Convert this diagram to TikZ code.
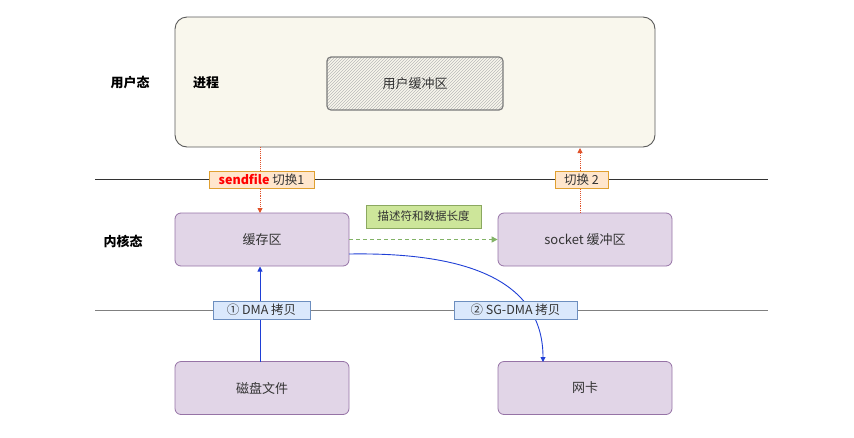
\documentclass[tikz,border=0pt]{standalone}
\usepackage{fontspec}
\setmainfont{Noto Sans CJK SC}
\usetikzlibrary{patterns,arrows.meta}
\definecolor{procfill}{HTML}{F9F7ED}
\definecolor{procdraw}{HTML}{5A5A5A}
\definecolor{purfill}{HTML}{E1D5E7}
\definecolor{purdraw}{HTML}{9673A6}
\definecolor{orfill}{HTML}{FFE6CC}
\definecolor{ordraw}{HTML}{E0A030}
\definecolor{blfill}{HTML}{DAE8FC}
\definecolor{bldraw}{HTML}{6C8EBF}
\definecolor{grfill}{HTML}{CDE69A}
\definecolor{grdraw}{HTML}{8BA860}
\definecolor{redarr}{HTML}{E0522A}
\definecolor{grarr}{HTML}{82B366}
\definecolor{bluearr}{HTML}{1F3FD6}
\definecolor{txt}{HTML}{333333}
\tikzset{
  purbox/.style={draw=purdraw, fill=purfill, rounded corners=6pt, line width=0.8pt, minimum width=174pt, minimum height=53pt, text=txt, font=\fontsize{13}{15}\selectfont},
  orlab/.style={draw=ordraw, fill=orfill, line width=0.8pt, inner sep=1pt, minimum height=17pt, text=txt, font=\fontsize{12.5}{14}\selectfont},
  bllab/.style={draw=bldraw, fill=blfill, line width=0.8pt, inner sep=1pt, minimum height=18pt, text=txt, font=\fontsize{12.5}{14}\selectfont},
  sidelab/.style={text=black, font=\fontsize{13}{15}\selectfont\bfseries},
  redflow/.style={redarr, densely dotted, line width=0.9pt, -{Triangle[length=5pt,width=5pt]}},
  blueflow/.style={bluearr, line width=0.9pt, -{Triangle[length=5pt,width=5pt]}},
}
\begin{document}
\begin{tikzpicture}[x=1pt,y=-1pt]
\useasboundingbox (0,0) rectangle (854,437);
% process box
\node[draw=procdraw, fill=procfill, rounded corners=12pt, line width=0.9pt, minimum width=480pt, minimum height=130pt] (proc) at (415,82) {};
\node[draw=procdraw!80, line width=1.2pt, rounded corners=4pt, minimum width=176pt, minimum height=53pt, pattern=north east lines, pattern color=gray!55] (ubufbg) at (415,83.5) {};
\node[text=txt, font=\fontsize{13}{15}\selectfont] (ubuf) at (415,83.5) {用户缓冲区};
\node[sidelab] (user) at (130,83) {用户态};
\node[sidelab] (procl) at (206,83) {进程};
\node[sidelab] (kern) at (123,241) {内核态};
% separator lines
\coordinate (l1a) at (95,179);
\coordinate (l1b) at (768,179);
\coordinate (l2a) at (95,310);
\coordinate (l2b) at (768,310);
\draw[line width=0.9pt, black!80] (l1a) -- (l1b);
\draw[line width=0.9pt, black!50] (l2a) -- (l2b);
% kernel boxes
\node[purbox] (cache) at (262,239.5) {缓存区};
\node[purbox] (sock) at (585,239.5) {socket 缓冲区};
\node[purbox] (disk) at (262,388) {磁盘文件};
\node[purbox] (nic) at (585,388) {网卡};
% arrows
\coordinate (p1) at (260,147);
\coordinate (c1) at (260,213);
\coordinate (s1) at (580,213);
\coordinate (p2) at (580,148);
\draw[redflow] (p1) -- (c1);
\draw[redflow] (s1) -- (p2);
\draw[grarr, line width=1pt, dash pattern=on 4pt off 3pt, -{Triangle[length=6pt,width=6pt]}] (cache.east) -- (sock.west);
\coordinate (d1) at (260,362);
\coordinate (c2) at (260,266.5);
\draw[blueflow] (d1) -- (c2);
\coordinate (c3) at (349,254);
\coordinate (n1) at (543,362);
\draw[blueflow] (c3) .. controls (470,252) and (543,282) .. (n1);
% labels
\node[orlab, minimum width=105pt] (lab1) at (261.5,179.5) {\textcolor{red}{\bfseries sendfile} 切换1};
\node[orlab, minimum width=53pt] (lab2) at (581.5,179.5) {切换 2};
\node[draw=grdraw, fill=grfill, line width=0.8pt, minimum width=115pt, minimum height=23pt, inner sep=1pt, text=txt, font=\fontsize{11.5}{13}\selectfont] (desc) at (423.5,216.5) {描述符和数据长度};
\node[bllab, minimum width=97pt] (dma1) at (261.5,310) {① DMA 拷贝};
\node[bllab, minimum width=123pt] (dma2) at (515.5,310) {② SG-DMA 拷贝};
\end{tikzpicture}
\end{document}
